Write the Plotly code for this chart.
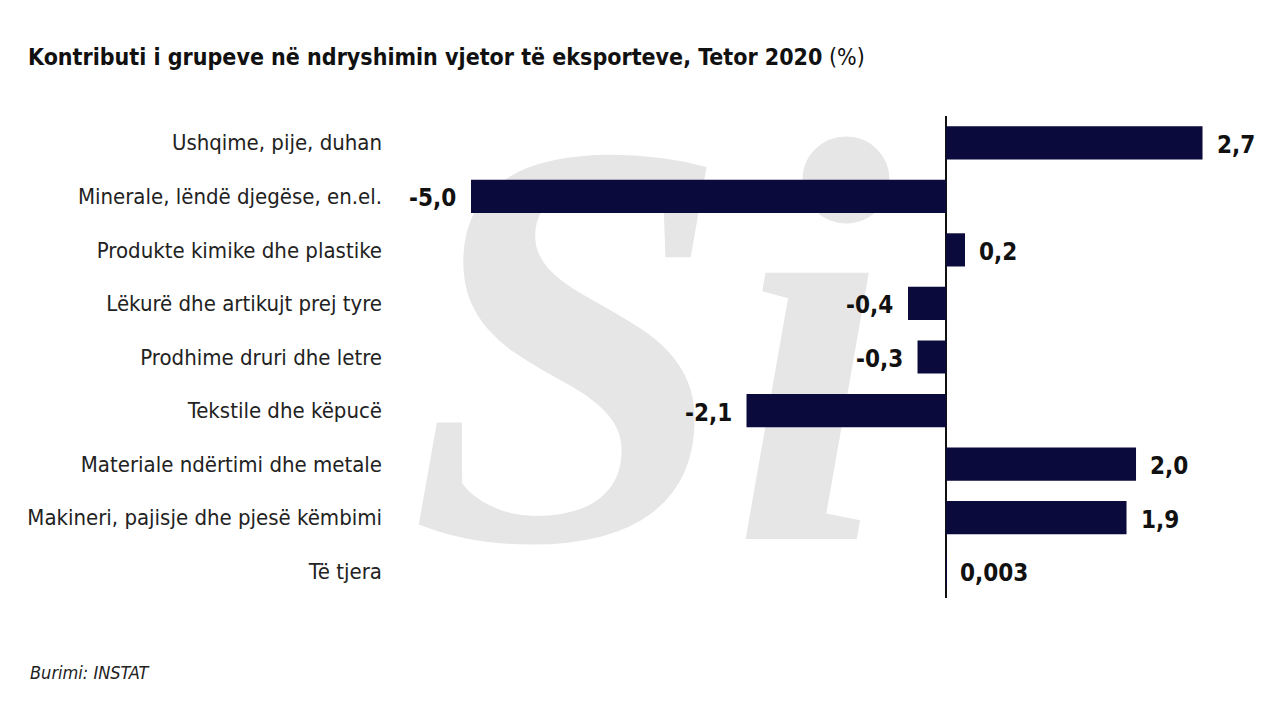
import plotly.graph_objects as go

categories = [
    "Ushqime, pije, duhan",
    "Minerale, lëndë djegëse, en.el.",
    "Produkte kimike dhe plastike",
    "Lëkurë dhe artikujt prej tyre",
    "Prodhime druri dhe letre",
    "Tekstile dhe këpucë",
    "Materiale ndërtimi dhe metale",
    "Makineri, pajisje dhe pjesë këmbimi",
    "Të tjera",
]
values = [2.7, -5.0, 0.2, -0.4, -0.3, -2.1, 2.0, 1.9, 0.003]
value_labels = ["2,7", "-5,0", "0,2", "-0,4", "-0,3", "-2,1", "2,0", "1,9", "0,003"]

title_main = "Kontributi i grupeve në ndryshimin vjetor të eksporteve, Tetor 2020"
title_unit = "(%)"
source_text = "Burimi: INSTAT"
watermark = "Si"

NAVY = "#0a0a3c"
FONT = "DejaVu Sans Condensed, Liberation Sans Narrow, sans-serif"

fig = go.Figure()

fig.add_trace(go.Bar(
    y=categories,
    x=values,
    orientation="h",
    marker=dict(color=NAVY, line=dict(width=0)),
    width=0.62,
    hoverinfo="x+y",
))

for cat, v, lab in zip(categories, values, value_labels):
    fig.add_annotation(
        x=v, y=cat, xref="x", yref="y",
        text="<b>" + lab + "</b>",
        showarrow=False,
        xanchor="left" if v >= 0 else "right",
        xshift=12 if v >= 0 else -13,
        yshift=-2,
        font=dict(family=FONT, size=24, color="#111111"),
    )

# watermark logo behind bars
fig.add_shape(
    type="rect", xref="paper", yref="paper",
    x0=0.06, x1=0.53, y0=0.2, y1=1.12,
    line=dict(width=0), fillcolor="rgba(0,0,0,0)",
    layer="below",
    label=dict(
        text="<b><i>" + watermark + "</i></b>",
        font=dict(family="Liberation Serif, DejaVu Serif, serif", size=580,
                  color="#e6e6e6"),
        textposition="middle center",
    ),
)

fig.add_annotation(
    x=(28 - 395) / 865, y=(598 - 672) / 482, xref="paper", yref="paper",
    text="<i>" + source_text + "</i>", showarrow=False,
    xanchor="left", yanchor="middle",
    font=dict(family=FONT, size=18, color="#222222"),
)

fig.update_layout(
    width=1280, height=720,
    autosize=False,
    paper_bgcolor="white",
    plot_bgcolor="rgba(0,0,0,0)",
    margin=dict(l=395, r=20, t=116, b=122),
    showlegend=False,
    title=dict(
        text="<b>" + title_main + "</b> " + title_unit,
        xref="container", yref="container",
        x=28 / 1280, xanchor="left",
        y=1 - 57 / 720, yanchor="middle",
        font=dict(family=FONT, size=23, color="#111111"),
    ),
    xaxis=dict(
        range=[-5.8, 3.305],
        showgrid=False, showticklabels=False, ticks="",
        zeroline=True, zerolinecolor="#111111", zerolinewidth=1.5,
        showline=False, fixedrange=True,
    ),
    yaxis=dict(
        autorange="reversed",
        showgrid=False, zeroline=False, showline=False, ticks="",
        ticklabelstandoff=12,
        tickfont=dict(family=FONT, size=22, color="#222222"),
        fixedrange=True,
    ),
)

fig.write_html("out.html", config={"displayModeBar": False},
               post_script="document.body.style.margin='0';")
